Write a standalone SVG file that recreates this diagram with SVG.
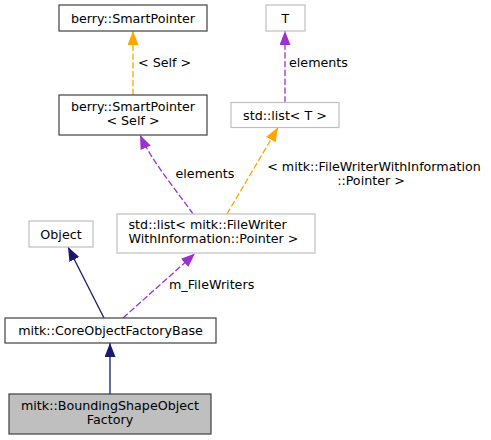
<svg xmlns="http://www.w3.org/2000/svg" width="491" height="440" viewBox="0 0 491 440">
<style>
text{font-family:"DejaVu Sans","Liberation Sans",sans-serif;font-size:12.7px;fill:#000}
.c{text-anchor:middle}
.doc{fill:#fff;stroke:#404040;stroke-width:1.2}
.ext{fill:#fff;stroke:#bfbfbf;stroke-width:1.2}
.cur{fill:#bfbfbf;stroke:#404040;stroke-width:1.2}
.e{fill:none;stroke-width:1.3}
.nav{stroke:#191970}
.pur{stroke:#9a32cd;stroke-dasharray:6.3,2.5}
.org{stroke:#ffa500;stroke-dasharray:6.3,2.5}
</style>
<defs>
<marker id="aN" markerUnits="userSpaceOnUse" markerWidth="15" markerHeight="12" refX="14" refY="5.5" orient="auto"><path d="M0,0 L14,5.5 L0,11 z" fill="#191970"/></marker>
<marker id="aP" markerUnits="userSpaceOnUse" markerWidth="15" markerHeight="12" refX="14" refY="5.5" orient="auto"><path d="M0,0 L14,5.5 L0,11 z" fill="#9a32cd"/></marker>
<marker id="aO" markerUnits="userSpaceOnUse" markerWidth="15" markerHeight="12" refX="14" refY="5.5" orient="auto"><path d="M0,0 L14,5.5 L0,11 z" fill="#ffa500"/></marker>
</defs>
<rect width="491" height="440" fill="#fff"/>
<g id="connectors">
<path class="e org" d="M133,95 L133,31" marker-end="url(#aO)"/>
<path class="e pur" d="M285,102.5 L285,31" marker-end="url(#aP)"/>
<path class="e pur" d="M193,214 C180,195 152,162 140,135" marker-end="url(#aP)"/>
<path class="e org" d="M227,214 L278,127.5" marker-end="url(#aO)"/>
<path class="e nav" d="M104,318 L68,247" marker-end="url(#aN)"/>
<path class="e pur" d="M123,318 L195,253.5" marker-end="url(#aP)"/>
<path class="e nav" d="M110,394 L110,343" marker-end="url(#aN)"/>
<text x="138" y="66.5">&lt; Self &gt;</text>
<text x="289" y="66.5">elements</text>
<text x="175.5" y="177.5">elements</text>
<text class="c" x="374" y="170.5">&lt; mitk::FileWriterWithInformation</text>
<text class="c" x="371" y="184.5">::Pointer &gt;</text>
<text x="169" y="288.5">m_FileWriters</text>
</g>
<g id="node_sp">
<rect class="doc" x="59" y="5" width="148" height="26"/>
<text class="c" x="133" y="22.5">berry::SmartPointer</text>
</g>
<g id="node_spself">
<rect class="doc" x="59" y="95" width="148" height="40"/>
<text class="c" x="133" y="110.5">berry::SmartPointer</text>
<text class="c" x="133" y="124.5">&lt; Self &gt;</text>
</g>
<g id="node_t">
<rect class="ext" x="266" y="5" width="39" height="26"/>
<text class="c" x="285.5" y="22.5">T</text>
</g>
<g id="node_listt">
<rect class="ext" x="231" y="102.5" width="108" height="25"/>
<text class="c" x="285" y="119.5">std::list&lt; T &gt;</text>
</g>
<g id="node_listfw">
<rect class="ext" x="117" y="214" width="198" height="39"/>
<text x="128.5" y="229">std::list&lt; mitk::FileWriter</text>
<text x="128.5" y="243">WithInformation::Pointer &gt;</text>
</g>
<g id="node_object">
<rect class="ext" x="29" y="221" width="64" height="26"/>
<text class="c" x="61" y="238.5">Object</text>
</g>
<g id="node_core">
<rect class="doc" x="5" y="318" width="211" height="25"/>
<text class="c" x="110.5" y="335">mitk::CoreObjectFactoryBase</text>
</g>
<g id="node_bounding">
<rect class="cur" x="9" y="394" width="202" height="40"/>
<text class="c" x="110" y="409.5">mitk::BoundingShapeObject</text>
<text class="c" x="110" y="423.5">Factory</text>
</g>
</svg>
